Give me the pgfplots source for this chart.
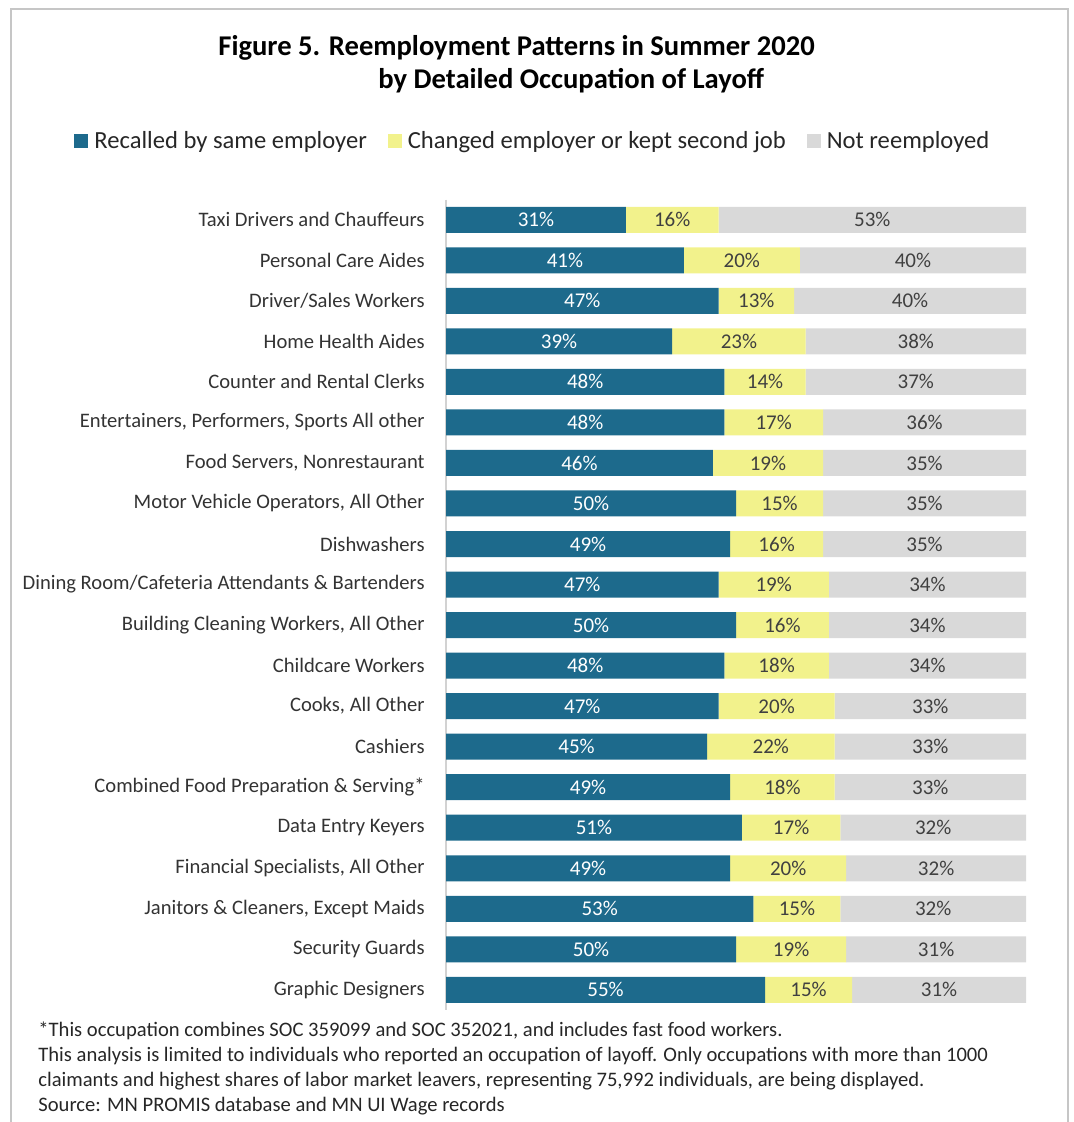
\documentclass[border=0pt]{standalone}
\usepackage{fontspec}
\setmainfont{Carlito}
\usepackage{pgfplots}
\usepackage{pgfplotstable}
\pgfplotsset{compat=1.18}
\definecolor{cblue}{HTML}{1D6A8C}
\definecolor{cyel}{HTML}{F2F28C}
\definecolor{cgrey}{HTML}{D9D9D9}
\definecolor{ctext}{HTML}{404040}
\pgfplotstableread{
idx b y g
0 31 16 53
1 41 20 40
2 47 13 40
3 39 23 38
4 48 14 37
5 48 17 36
6 46 19 35
7 50 15 35
8 49 16 35
9 47 19 34
10 50 16 34
11 48 18 34
12 47 20 33
13 45 22 33
14 49 18 33
15 51 17 32
16 49 20 32
17 53 15 32
18 50 19 31
19 55 15 31
}\data
\begin{document}
\begin{tikzpicture}
\useasboundingbox (0,0) rectangle (536.5pt,-561pt);
\draw[gray!45, line width=1pt] (5.5pt,-575pt) -- (5.5pt,-4.5pt) -- (534pt,-4.5pt) -- (534pt,-575pt);
\node[anchor=base west, inner sep=0pt, font=\fontsize{14.3}{16}\selectfont\bfseries] at (109pt,-28pt) {Figure 5. Reemployment Patterns in Summer 2020};
\node[anchor=base west, inner sep=0pt, font=\fontsize{14.3}{16}\selectfont\bfseries] at (189pt,-44.5pt) {by Detailed Occupation of Layoff};
\begin{axis}[
  at={(223pt,-99.75pt)}, anchor=north west,
  scale only axis, width=290pt, height=405.3pt,
  xmin=0, xmax=100, ymin=-0.5, ymax=19.5,
  y dir=reverse,
  xbar stacked, bar width=13pt,
  axis x line=none, axis y line*=left,
  y axis line style={draw=gray!35, line width=0.6pt},
  xtick=\empty,
  ytick={0,...,19},
  major tick length=0pt,
  yticklabels={{Taxi Drivers and Chauffeurs},{Personal Care Aides},{Driver/Sales Workers},{Home Health Aides},{Counter and Rental Clerks},{Entertainers, Performers, Sports All other},{Food Servers, Nonrestaurant},{Motor Vehicle Operators, All Other},{Dishwashers},{Dining Room/Cafeteria Attendants \& Bartenders},{Building Cleaning Workers, All Other},{Childcare Workers},{Cooks, All Other},{Cashiers},{Combined Food Preparation \& Serving*},{Data Entry Keyers},{Financial Specialists, All Other},{Janitors \& Cleaners, Except Maids},{Security Guards},{Graphic Designers}},
  yticklabel style={font=\fontsize{10.3}{12}\selectfont, text=black!80, anchor=east, inner sep=0pt, xshift=-10.5pt},
  legend columns=3,
  legend style={at={(0.148,1.0722)}, anchor=center, draw=none, fill=none,
    font=\fontsize{12.3}{14}\selectfont, inner xsep=0pt, inner ysep=0pt,
    nodes={inner sep=0pt, text=black!85},
    /tikz/every odd column/.append style={column sep=3pt},
    /tikz/every even column/.append style={column sep=10.5pt}},
  legend image code/.code={\fill[#1] (0pt,-3.5pt) rectangle (7pt,3.5pt);},
  point meta=explicit symbolic,
  nodes near coords={\pgfplotspointmeta\%},
  every node near coord/.append style={anchor=center, font=\fontsize{10.5}{12}\selectfont},
]
\addplot[fill=cblue, draw=none, every node near coord/.append style={text=white}] table[x=b, y=idx, meta=b]{\data};
\addplot[fill=cyel, draw=none, every node near coord/.append style={text=ctext}] table[x=y, y=idx, meta=y]{\data};
\addplot[fill=cgrey, draw=none, every node near coord/.append style={text=ctext}] table[x expr=100-\thisrow{b}-\thisrow{y}, y=idx, meta=g]{\data};
\legend{Recalled by same employer, Changed employer or kept second job, Not reemployed}
\end{axis}
\node[anchor=base west, inner sep=0pt, align=left, font=\fontsize{10.3}{12.5}\selectfont, text=black!85] at (19pt,-555.5pt) {*This occupation combines SOC 359099 and SOC 352021, and includes fast food workers.\\This analysis is limited to individuals who reported an occupation of layoff. Only occupations with more than 1000\\claimants and highest shares of labor market leavers, representing 75,992 individuals, are being displayed.\\Source: MN PROMIS database and MN UI Wage records};
\end{tikzpicture}
\end{document}
